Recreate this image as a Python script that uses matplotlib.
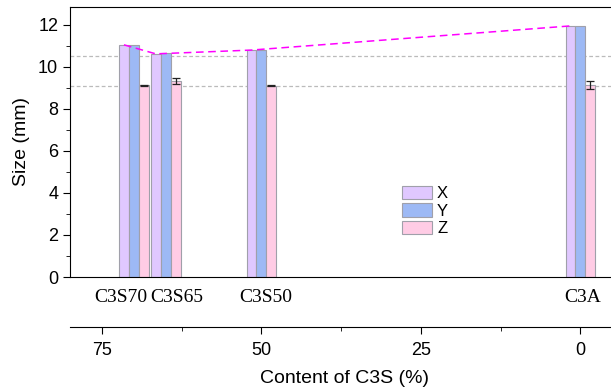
import matplotlib
matplotlib.use('Agg')
import matplotlib.pyplot as plt
import matplotlib.transforms as mtransforms
import numpy as np

# données
echantillons = ['C3S70', 'C3S65', 'C3S50', 'C3A']
teneur_c3s = [70, 65, 50, 0]
taille_x = [11.05, 10.62, 10.8, 11.95]
taille_y = [11.05, 10.65, 10.8, 11.95]
taille_z = [9.12, 9.33, 9.1, 9.15]
err_z = [0.04, 0.14, 0.03, 0.2]
lignes_ref = [10.5, 9.1]
ticks_c3s = [75, 50, 25, 0]

COULEURS = {'X': '#E0C8FF', 'Y': '#9DB9F5', 'Z': '#FFCCE5'}
LARGEUR = 1.55
XLIM = (80, -6.2)

plt.rcParams['font.family'] = ['Liberation Sans', 'DejaVu Sans']

fig = plt.figure(figsize=(6.11, 3.92), dpi=100)
ax = fig.add_axes([70 / 611, 1 - 277 / 392, (620 - 70) / 611, (277 - 7) / 392])

pos = np.array(teneur_c3s, dtype=float)
for decal, valeurs, nom in [(LARGEUR, taille_x, 'X'), (0, taille_y, 'Y'), (-LARGEUR, taille_z, 'Z')]:
    ax.bar(pos + decal, valeurs, width=LARGEUR, color=COULEURS[nom],
           edgecolor='#A0A0AA', linewidth=0.8, label=nom, zorder=2)

ax.errorbar(pos - LARGEUR, taille_z, yerr=err_z, fmt='none', ecolor='#222222',
            elinewidth=0.9, capsize=3, capthick=0.9, zorder=3)

for y in lignes_ref:
    ax.axhline(y, color='#BBBBBB', linestyle=(0, (3, 2)), linewidth=0.9, zorder=1)

ax.plot(pos + LARGEUR, taille_x, color='#FF00FF', linestyle=(0, (5, 3)),
        linewidth=1.1, zorder=4)

ax.set_xlim(*XLIM)
ax.set_ylim(0, 12.85)
ax.set_yticks(np.arange(0, 13, 2))
ax.set_yticks(np.arange(1, 13, 2), minor=True)
ax.tick_params(axis='y', which='major', direction='out', length=5, labelsize=13)
ax.tick_params(axis='y', which='minor', direction='out', length=3)
ax.set_ylabel('Size (mm)', fontsize=14, labelpad=6)

ax.set_xticks(pos)
ax.set_xticklabels(echantillons, family='Liberation Serif', fontsize=14)
ax.tick_params(axis='x', length=0, pad=9)
# décalage des étiquettes pour qu'elles ne se chevauchent pas
for lab, dx in zip(ax.get_xticklabels(), [-13, 11, 4, 2]):
    lab.set_transform(lab.get_transform() + mtransforms.ScaledTranslation(dx / 100, 0, fig.dpi_scale_trans))

ax.legend(loc='upper left', bbox_to_anchor=(402 / 611, 1 - 186 / 392),
          bbox_transform=fig.transFigure, frameon=False, fontsize=12,
          handlelength=1.8, handleheight=0.85, labelspacing=0.12,
          handletextpad=0.3, borderpad=0, borderaxespad=0)

# axe secondaire : teneur en C3S
ax2 = ax.twiny()
ax2.set_xlim(*XLIM)
ax2.xaxis.set_ticks_position('bottom')
ax2.xaxis.set_label_position('bottom')
ax2.spines['bottom'].set_position(('outward', 36))
for cote in ['top', 'left', 'right']:
    ax2.spines[cote].set_visible(False)
ax2.set_xticks(ticks_c3s)
ax2.set_xticks([62.5, 37.5, 12.5], minor=True)
ax2.tick_params(axis='x', which='major', direction='out', length=5, labelsize=13, pad=6)
ax2.tick_params(axis='x', which='minor', direction='out', length=3)
ax2.set_xlabel('Content of C3S (%)', fontsize=14, labelpad=8)

fig.savefig('out.png', dpi=100)
